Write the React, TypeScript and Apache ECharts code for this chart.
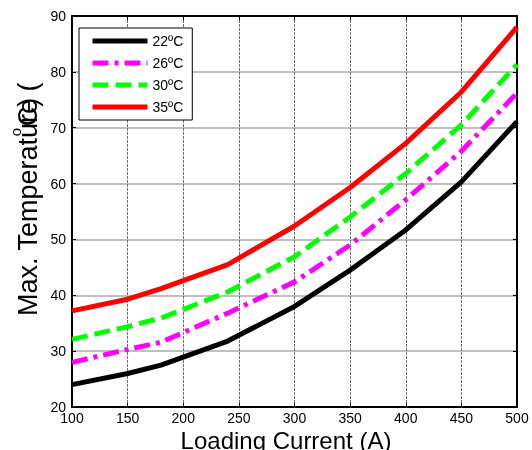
import React, { useEffect, useRef } from "react";
import * as echarts from "echarts";

const currents = [100, 150, 180, 240, 300, 350, 400, 450, 500];
const temp22 = [24.0, 26.0, 27.5, 31.8, 38.0, 44.5, 51.7, 60.3, 71.1];
const temp26 = [28.0, 30.3, 31.6, 36.8, 42.4, 49.0, 57.1, 65.8, 76.2];
const temp30 = [32.1, 34.4, 35.9, 40.6, 46.9, 54.0, 61.8, 70.5, 81.3];
const temp35 = [37.2, 39.3, 41.2, 45.5, 52.4, 59.3, 67.2, 76.4, 88.0];
const seriesNames = ["22ºC", "26ºC", "30ºC", "35ºC"];
const FONT = "Liberation Sans, Arial, sans-serif";

export default function App() {
  const ref = useRef<HTMLDivElement>(null);
  useEffect(() => {
    if (!ref.current) return;
    const chart = echarts.init(ref.current, null, { renderer: "svg" });
    const pairs = (ys: number[]) => currents.map((x, i) => [x, ys[i]]);
    const mk = (name: string, ys: number[], color: string, type: any) => ({
      name,
      type: "line",
      data: pairs(ys),
      symbol: "none",
      lineStyle: { color, width: 5, type, cap: "butt" },
      itemStyle: { color },
      xAxisIndex: 0,
      yAxisIndex: 0,
    });
    const tickStyle = { show: true, inside: true, length: 4, lineStyle: { color: "#000", width: 1 } };
    chart.setOption({
      animation: false,
      textStyle: { fontFamily: FONT },
      grid: { left: 72, right: 15, top: 16, bottom: 43, containLabel: false },
      legend: {
        orient: "vertical",
        left: 79,
        top: 28,
        padding: [6, 9, 6, 11],
        itemWidth: 55,
        itemHeight: 14,
        itemGap: 8,
        backgroundColor: "#fff",
        borderColor: "#000",
        borderWidth: 1,
        borderRadius: 0,
        itemStyle: { opacity: 0 },
        lineStyle: { width: 5, cap: "butt" },
        textStyle: { fontSize: 14, color: "#000", fontFamily: FONT },
        data: seriesNames,
      },
      xAxis: [
        {
          type: "value",
          min: 100,
          max: 500,
          interval: 50,
          axisLine: { show: true, lineStyle: { color: "#000", width: 2 } },
          axisTick: tickStyle,
          axisLabel: { color: "#000", fontSize: 14, fontFamily: FONT, margin: 4 },
          splitLine: { show: true, lineStyle: { color: "#707070", width: 1, type: [3, 1] } },
        },
        {
          type: "value",
          position: "top",
          min: 100,
          max: 500,
          interval: 50,
          axisLine: { show: true, lineStyle: { color: "#000", width: 2 } },
          axisTick: tickStyle,
          axisLabel: { show: false },
          splitLine: { show: false },
        },
      ],
      yAxis: [
        {
          type: "value",
          min: 20,
          max: 90,
          interval: 10,
          axisLine: { show: true, lineStyle: { color: "#000", width: 2 } },
          axisTick: tickStyle,
          axisLabel: { color: "#000", fontSize: 14, fontFamily: FONT, margin: 6 },
          splitLine: { show: true, lineStyle: { color: "#aaaaaa", width: 1.5 } },
        },
        {
          type: "value",
          position: "right",
          min: 20,
          max: 90,
          interval: 10,
          axisLine: { show: true, lineStyle: { color: "#000", width: 2 } },
          axisTick: tickStyle,
          axisLabel: { show: false },
          splitLine: { show: false },
        },
      ],
      graphic: [
        {
          type: "text",
          x: 28,
          y: 316,
          rotation: Math.PI / 2,
          style: { text: "Max. Temperature (", fontSize: 27, fontFamily: FONT, fill: "#000", align: "left", verticalAlign: "middle" },
        },
        {
          type: "text",
          x: 28,
          y: 112,
          rotation: Math.PI / 2,
          style: { text: "C)", fontSize: 27, fontFamily: FONT, fill: "#000", align: "center", verticalAlign: "middle" },
        },
        {
          type: "text",
          x: 15,
          y: 132,
          rotation: Math.PI / 2,
          style: { text: "o", fontSize: 15, fontFamily: FONT, fill: "#000", align: "center", verticalAlign: "middle" },
        },
        {
          type: "text",
          x: 286,
          y: 440,
          style: { text: "Loading Current (A)", fontSize: 24, fontFamily: FONT, fill: "#000", align: "center", verticalAlign: "middle" },
        },
      ],
      series: [
        mk(seriesNames[0], temp22, "#000000", "solid"),
        mk(seriesNames[1], temp26, "#ff00ff", [16, 6, 4, 6]),
        mk(seriesNames[2], temp30, "#00ff00", [16, 7]),
        mk(seriesNames[3], temp35, "#ff0000", "solid"),
      ],
    });
    return () => chart.dispose();
  }, []);
  return <div ref={ref} style={{ position: "fixed", left: 0, top: 0, width: 532, height: 450 }} />;
}
